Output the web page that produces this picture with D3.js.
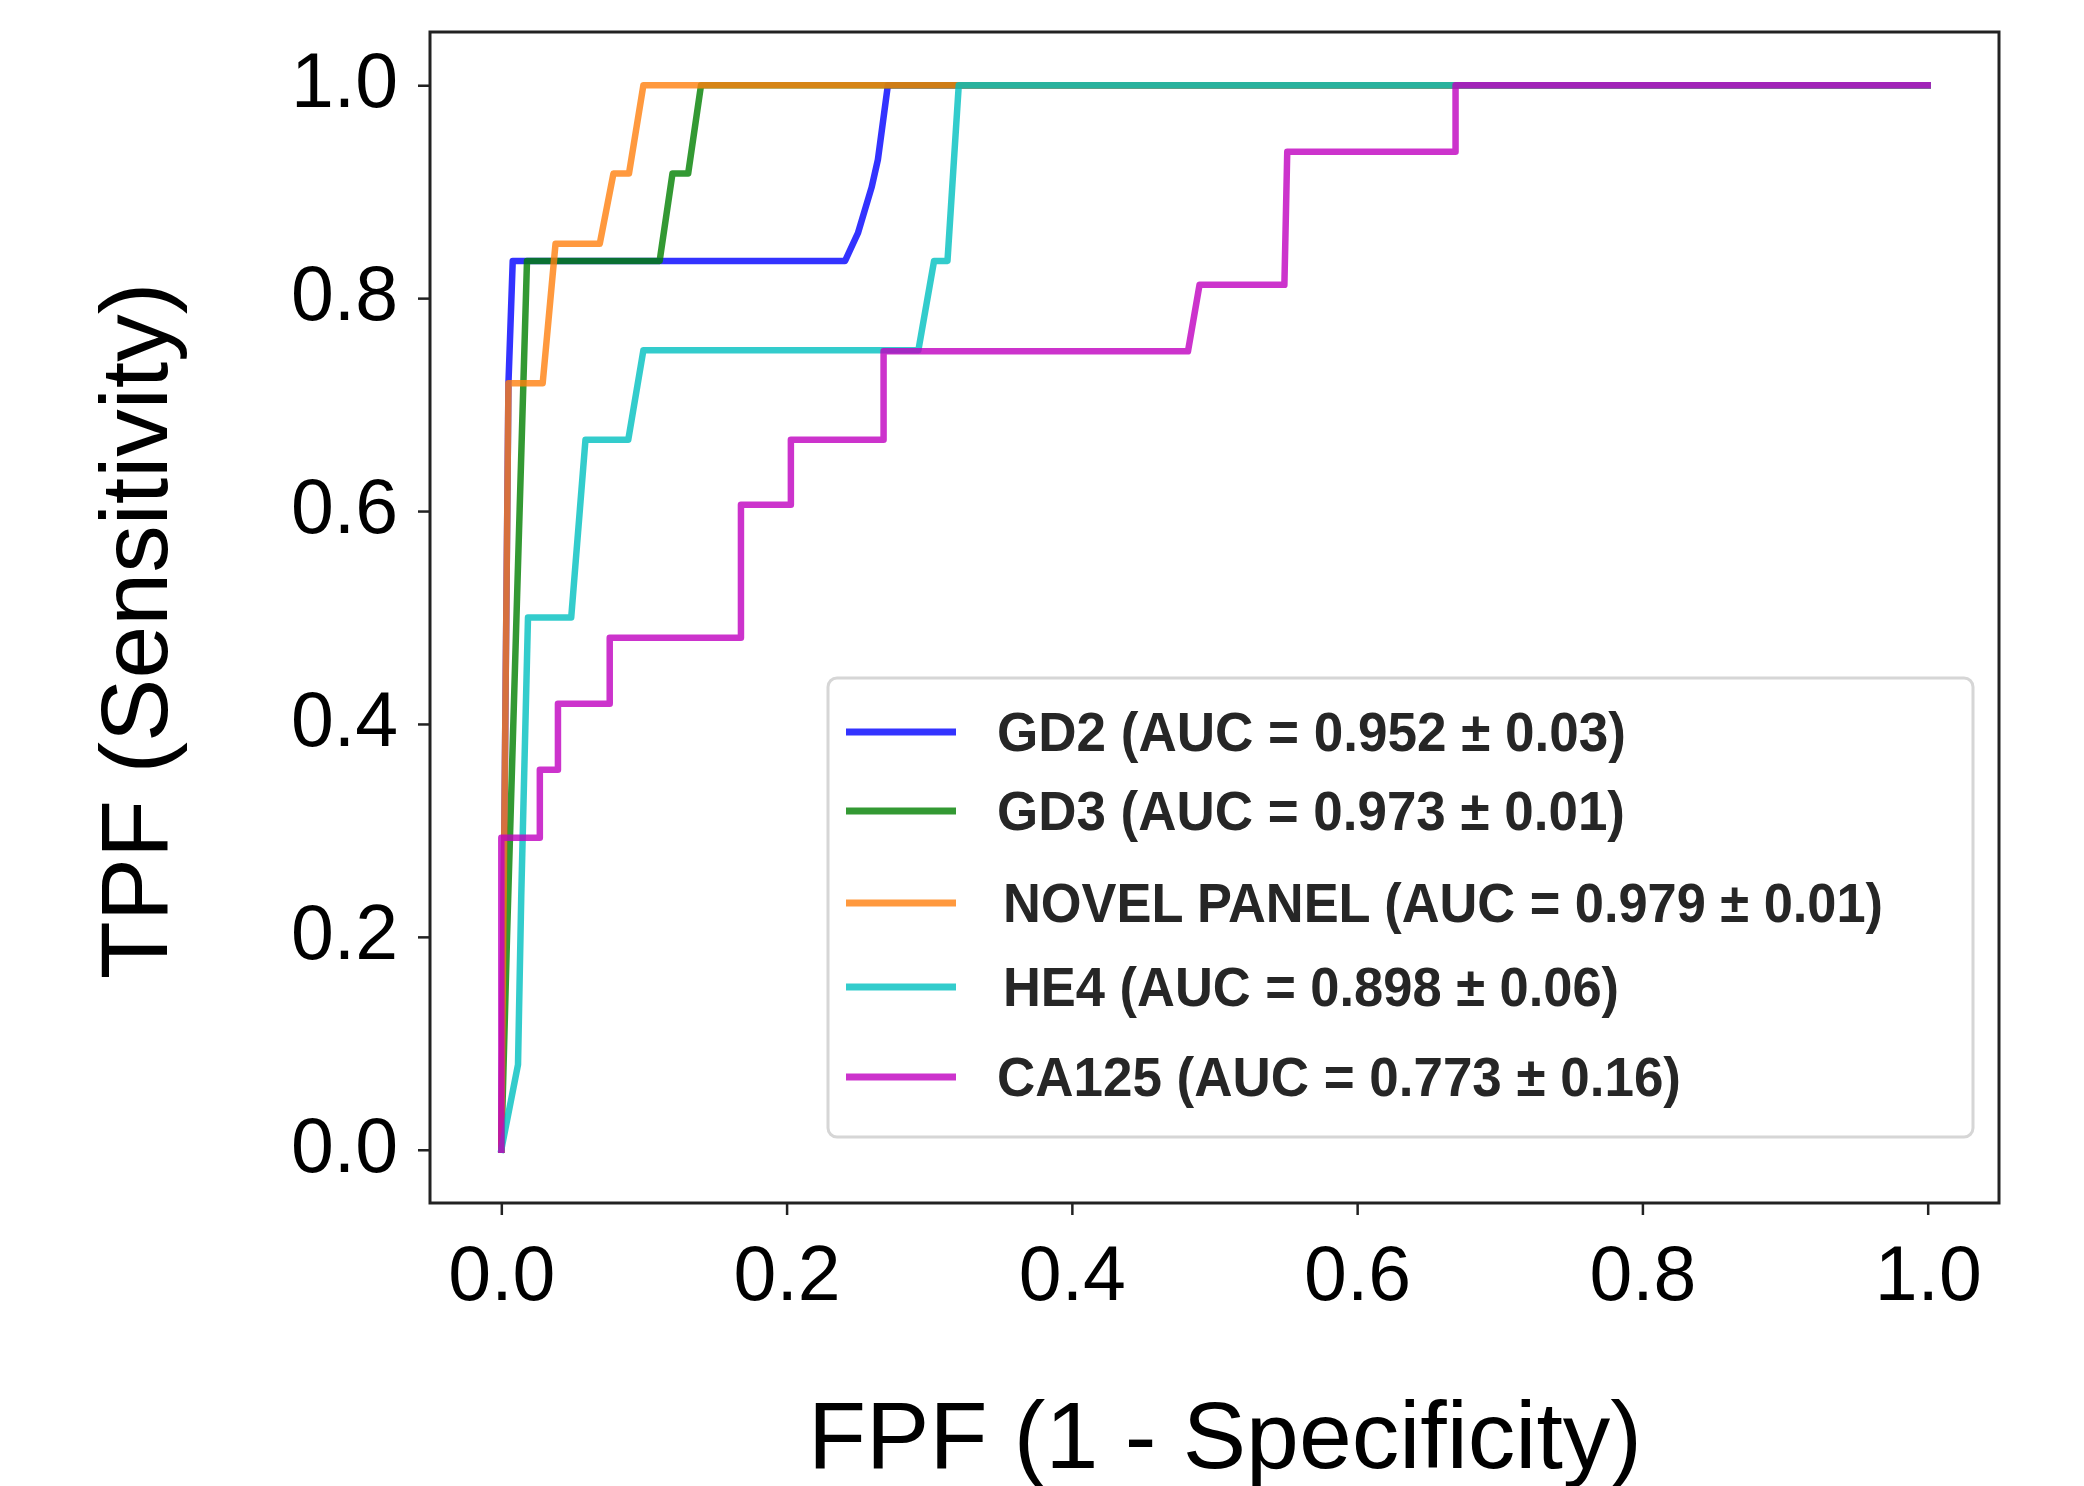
<!DOCTYPE html>
<html>
  <body style="margin:0;background:#fff">
    <style>
      text { font-family: "Liberation Sans", Arial, sans-serif; }
      .tick line { stroke: #222; stroke-width: 2.5; }
      .tick text { fill: #000; font-size: 77px; }
    </style>
    <script src="https://cdn.jsdelivr.net/npm/d3@7"></script>
    <script type="text/javascript">
      // ROC curves of five markers
      const seriesNames = ['GD2', 'GD3', 'NOVEL PANEL', 'HE4', 'CA125'];
      const aucLabels = [
        'GD2 (AUC = 0.952 ± 0.03)',
        'GD3 (AUC = 0.973 ± 0.01)',
        'NOVEL PANEL (AUC = 0.979 ± 0.01)',
        'HE4 (AUC = 0.898 ± 0.06)',
        'CA125 (AUC = 0.773 ± 0.16)'
      ];
      const colors = ['#0000ff', '#008000', '#ff7f0e', '#00bfbf', '#bf00bf'];

      const gd2Fpr = [0, 0.005, 0.008, 0.241, 0.250, 0.2596, 0.264, 0.271, 1];
      const gd2Tpr = [0, 0.72, 0.835, 0.835, 0.861, 0.904, 0.93, 1, 1];

      const gd3Fpr = [0, 0.004, 0.018, 0.111, 0.120, 0.131, 0.140, 1];
      const gd3Tpr = [0, 0.2, 0.835, 0.835, 0.917, 0.917, 1, 1];

      const panelFpr = [0, 0.005, 0.029, 0.038, 0.069, 0.0786, 0.0895, 0.0996, 1];
      const panelTpr = [0, 0.72, 0.72, 0.851, 0.851, 0.917, 0.917, 1, 1];

      const he4Fpr = [0, 0.0117, 0.014, 0.0187, 0.049, 0.059, 0.089, 0.0996, 0.2924, 0.3034, 0.3128, 0.3207, 1];
      const he4Tpr = [0, 0.08, 0.24, 0.5, 0.5, 0.667, 0.667, 0.751, 0.751, 0.835, 0.835, 1, 1];

      const ca125Fpr = [0, 0, 0.027, 0.027, 0.0397, 0.0397, 0.076, 0.076, 0.168, 0.168, 0.203, 0.203,
        0.268, 0.268, 0.4814, 0.4895, 0.549, 0.551, 0.669, 0.669, 1];
      const ca125Tpr = [0, 0.293, 0.293, 0.357, 0.357, 0.419, 0.419, 0.481, 0.481, 0.606, 0.606, 0.667,
        0.667, 0.75, 0.75, 0.8125, 0.8125, 0.9375, 0.9375, 1, 1];

      const tickValues = [0, 0.2, 0.4, 0.6, 0.8, 1.0];

      const fprs = [gd2Fpr, gd3Fpr, panelFpr, he4Fpr, ca125Fpr];
      const tprs = [gd2Tpr, gd3Tpr, panelTpr, he4Tpr, ca125Tpr];

      const width = 2084;
      const height = 1486;
      const plot = { left: 430, right: 1999, top: 32, bottom: 1203 };

      const svg = d3.select('body')
        .append('svg')
        .attr('width', width)
        .attr('height', height);

      const x = d3.scaleLinear().domain([-0.05, 1.05]).range([plot.left, plot.right]);
      const y = d3.scaleLinear().domain([-0.05, 1.05]).range([plot.bottom, plot.top]);

      const line = d3.line()
        .x((d) => x(d[0]))
        .y((d) => y(d[1]));

      // curves
      seriesNames.forEach((name, i) => {
        const pts = fprs[i].map((f, k) => [f, tprs[i][k]]);
        svg.append('path')
          .datum(pts)
          .attr('d', line)
          .attr('fill', 'none')
          .attr('stroke', colors[i])
          .attr('stroke-opacity', 0.8)
          .attr('stroke-width', 6.5)
          .attr('stroke-linejoin', 'round')
          .attr('stroke-linecap', 'square');
      });

      // axes
      const xAxis = svg.append('g')
        .attr('transform', `translate(0,${plot.bottom})`)
        .call(d3.axisBottom(x).tickValues(tickValues).tickFormat(d3.format('.1f')).tickSize(12).tickPadding(30));
      xAxis.select('.domain').remove();
      xAxis.selectAll('.tick text').attr('dy', '0.71em').attr('font-size', 78);

      const yAxis = svg.append('g')
        .attr('transform', `translate(${plot.left},0)`)
        .call(d3.axisLeft(y).tickValues(tickValues).tickFormat(d3.format('.1f')).tickSize(12).tickPadding(20));
      yAxis.select('.domain').remove();
      yAxis.selectAll('.tick text').attr('dy', '0.28em');

      // frame
      svg.append('rect')
        .attr('x', plot.left)
        .attr('y', plot.top)
        .attr('width', plot.right - plot.left)
        .attr('height', plot.bottom - plot.top)
        .attr('fill', 'none')
        .attr('stroke', '#222')
        .attr('stroke-width', 3);

      // axis titles
      svg.append('text')
        .attr('x', 1225)
        .attr('y', 1468)
        .attr('text-anchor', 'middle')
        .attr('font-size', 95)
        .attr('fill', '#000')
        .text('FPF (1 - Specificity)');

      svg.append('text')
        .attr('transform', 'translate(167,631) rotate(-90)')
        .attr('text-anchor', 'middle')
        .attr('font-size', 95)
        .attr('fill', '#000')
        .text('TPF (Sensitivity)');

      // legend
      const legendBox = { x: 828, y: 678, w: 1145, h: 459 };
      const legendBaselines = [751, 830, 922, 1006, 1096];
      const legendTextX = [997, 997, 1003, 1003, 997];
      const legendTextW = [629, 628, 880, 616, 684];

      svg.append('rect')
        .attr('x', legendBox.x)
        .attr('y', legendBox.y)
        .attr('width', legendBox.w)
        .attr('height', legendBox.h)
        .attr('rx', 9)
        .attr('fill', '#fff')
        .attr('fill-opacity', 0.8)
        .attr('stroke', '#d6d6d6')
        .attr('stroke-width', 3);

      const legendItem = svg.selectAll('.legend-item')
        .data(aucLabels)
        .enter()
        .append('g')
        .attr('class', 'legend-item');

      legendItem.append('line')
        .attr('x1', 846)
        .attr('x2', 956)
        .attr('y1', (d, i) => legendBaselines[i] - 19)
        .attr('y2', (d, i) => legendBaselines[i] - 19)
        .attr('stroke', (d, i) => colors[i])
        .attr('stroke-opacity', 0.8)
        .attr('stroke-width', 7);

      legendItem.append('text')
        .attr('x', (d, i) => legendTextX[i])
        .attr('y', (d, i) => legendBaselines[i])
        .attr('font-size', 56)
        .attr('font-weight', 'bold')
        .attr('fill', '#262626')
        .attr('textLength', (d, i) => legendTextW[i])
        .attr('lengthAdjust', 'spacingAndGlyphs')
        .text((d) => d);
    </script>
  </body>
</html>
